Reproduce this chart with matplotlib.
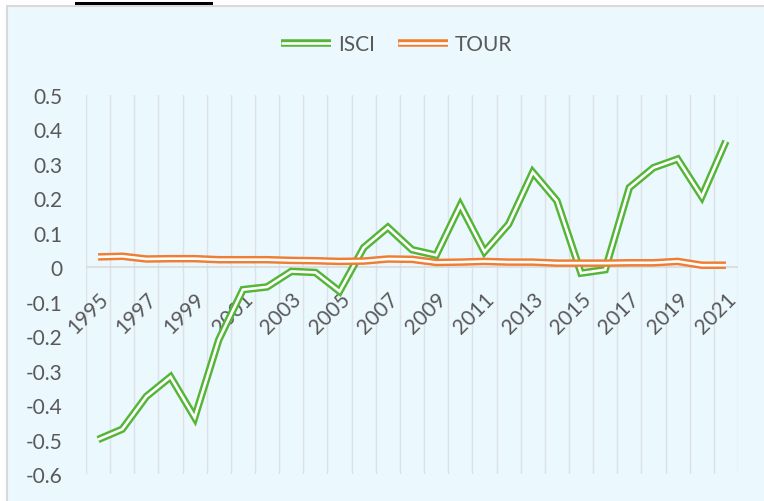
import matplotlib
matplotlib.use('Agg')
import matplotlib.pyplot as plt
import matplotlib.patheffects as pe
from matplotlib.patches import Rectangle
import numpy as np

years = list(range(1995, 2022))

isci = [-0.500, -0.470, -0.375, -0.318, -0.436, -0.210, -0.065, -0.057,
        -0.012, -0.015, -0.070, 0.057, 0.116, 0.051, 0.035, 0.180,
        0.045, 0.125, 0.276, 0.193, -0.017, -0.007, 0.231, 0.289,
        0.314, 0.205, 0.366]

tour = [0.030, 0.032, 0.024, 0.025, 0.025, 0.022, 0.022, 0.022,
        0.020, 0.019, 0.017, 0.018, 0.024, 0.023, 0.014, 0.015,
        0.017, 0.015, 0.015, 0.012, 0.012, 0.012, 0.013, 0.013,
        0.017, 0.006, 0.006]

yticks = [-0.6, -0.5, -0.4, -0.3, -0.2, -0.1, 0, 0.1, 0.2, 0.3, 0.4, 0.5]
ytick_labels = ['-0.6', '-0.5', '-0.4', '-0.3', '-0.2', '-0.1', '0',
                '0.1', '0.2', '0.3', '0.4', '0.5']

GREEN = '#55B536'
ORANGE = '#EF7D32'
TEXT = '#595959'
GRID = '#DCE2E5'

plt.rcParams['font.family'] = ['Lato', 'DejaVu Sans']

fig = plt.figure(figsize=(7.64, 5.02), dpi=100)
fig.patch.set_facecolor('white')

# chart box and the clipped heading underline above it
fig.patches.append(Rectangle((7 / 764, -0.05), 1.1, 1.05 - 6.7 / 502,
                             transform=fig.transFigure, facecolor='#EBF8FE',
                             edgecolor='#D9D9D9', lw=1.5, zorder=0))
fig.patches.append(Rectangle((75 / 764, 1 - 6 / 502), 138 / 764, 3 / 502,
                             transform=fig.transFigure, facecolor='black',
                             edgecolor='none', zorder=1))

ax = fig.add_axes([86 / 764, 1 - 475 / 502, (738 - 86) / 764, (475 - 96) / 502])
ax.set_facecolor('none')
ax.set_zorder(2)

x = np.arange(len(years))

for b in np.arange(len(years) + 1) - 0.5:
    ax.axvline(b, color=GRID, lw=1.0, zorder=1)
ax.axhline(0, color='#D9D9D9', lw=1.2, zorder=1)


def double_line(vals, color, label):
    ax.plot(x, vals, color='white', lw=1.9, solid_joinstyle='miter',
            solid_capstyle='butt', label=label, zorder=3,
            path_effects=[pe.Stroke(linewidth=5.4, foreground=color,
                                    capstyle='butt'),
                          pe.Normal()])


double_line(isci, GREEN, 'ISCI')
double_line(tour, ORANGE, 'TOUR')

ax.set_xlim(-0.5, len(years) - 0.5)
ax.set_ylim(-0.6, 0.5)

ax.set_yticks(yticks)
ax.set_yticklabels(ytick_labels)
ax.tick_params(axis='y', length=0, pad=17, labelsize=15, labelcolor=TEXT)

ax.spines['bottom'].set_position(('data', 0))
for s in ['top', 'right', 'left', 'bottom']:
    ax.spines[s].set_visible(False)

ax.set_xticks(x[::2])
ax.set_xticklabels([str(y) for y in years[::2]], rotation=45, ha='right',
                   va='top', rotation_mode='anchor')
ax.tick_params(axis='x', length=0, pad=15, labelsize=15, labelcolor=TEXT)

fig.legend(loc='center', bbox_to_anchor=(0.519, 0.91), ncol=2,
           frameon=False, fontsize=15, labelcolor=TEXT, handlelength=2.4,
           handletextpad=0.35, columnspacing=1.1)

fig.savefig('out.png', dpi=100)
